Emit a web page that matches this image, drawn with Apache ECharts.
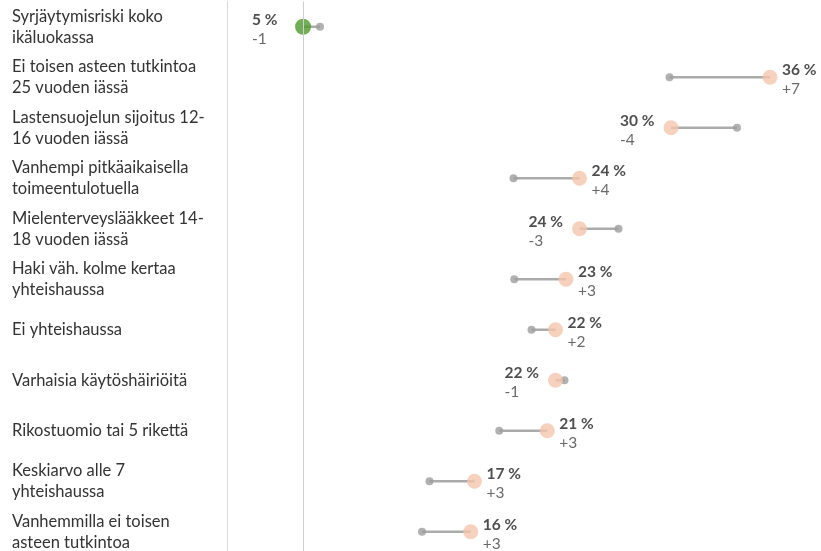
<!DOCTYPE html>
<html>
<head>
<meta charset="utf-8">
<script src="https://cdn.jsdelivr.net/npm/echarts@6/dist/echarts.min.js"></script>
<style>
  html, body { margin: 0; padding: 0; background: #fff; }
  #chart { width: 821px; height: 551px; }
</style>
</head>
<body>
<div id="chart"></div>
<script>
// rivit ylhäältä alas
var categories = [
  'Syrjäytymisriski koko\nikäluokassa',
  'Ei toisen asteen tutkintoa\n25 vuoden iässä',
  'Lastensuojelun sijoitus 12-\n16 vuoden iässä',
  'Vanhempi pitkäaikaisella\ntoimeentulotuella',
  'Mielenterveyslääkkeet 14-\n18 vuoden iässä',
  'Haki väh. kolme kertaa\nyhteishaussa',
  'Ei yhteishaussa',
  'Varhaisia käytöshäiriöitä',
  'Rikostuomio tai 5 rikettä',
  'Keskiarvo alle 7\nyhteishaussa',
  'Vanhemmilla ei toisen\nasteen tutkintoa'
];
var current  = [5.07, 36.2, 29.6, 23.5, 23.5, 22.6, 21.9, 21.9, 21.35, 16.5, 16.25];
var previous = [6.2, 29.5, 34.0, 19.1, 26.1, 19.15, 20.3, 22.5, 18.15, 13.5, 13.0];
var shownPct    = [5, 36, 30, 24, 24, 23, 22, 22, 21, 17, 16];
var shownChange = ['-1', '+7', '-4', '+4', '-3', '+3', '+2', '-1', '+3', '+3', '+3'];

var FONT = 'Lato, "Open Sans", sans-serif';

var chart = echarts.init(document.getElementById('chart'));

var segData = categories.map(function (c, i) { return [i, previous[i], current[i]]; });
var prevData = categories.map(function (c, i) { return [previous[i], i]; });
var currData = categories.map(function (c, i) {
  var up = current[i] >= previous[i];
  var size = i === 0 ? 16 : 15;
  var r = size / 2;
  return {
    value: [current[i], i],
    symbolSize: size,
    itemStyle: { color: i === 0 ? '#4e9a2b' : '#f3c6ae' },
    label: {
      position: up ? [12 + r, r + 2.5] : [-51 + r, r + 2.5],
      formatter: '{a|' + shownPct[i] + ' %}\n{b|' + shownChange[i] + '}'
    }
  };
});

var option = {
  animation: false,
  grid: { left: 227, width: 570, top: 1.5, height: 555.5, outerBoundsMode: 'none', containLabel: false },
  xAxis: {
    type: 'value', min: 0, max: 38,
    show: false
  },
  yAxis: {
    type: 'category',
    inverse: true,
    data: categories,
    axisLine: { show: true, lineStyle: { color: '#d9d9d9', width: 1 } },
    axisTick: { show: false },
    splitLine: { show: false },
    axisLabel: {
      align: 'left',
      margin: 215,
      color: '#333',
      fontFamily: FONT,
      fontSize: 16.5,
      lineHeight: 21,
      padding: [3, 0, 0, 0]
    }
  },
  series: [
    {
      type: 'custom',
      data: segData,
      renderItem: function (params, api) {
        var p0 = api.coord([api.value(1), api.value(0)]);
        var p1 = api.coord([api.value(2), api.value(0)]);
        return {
          type: 'line',
          shape: { x1: p0[0], y1: p0[1], x2: p1[0], y2: p1[1] },
          style: { stroke: '#ababab', lineWidth: 2.5 }
        };
      },
      z: 1
    },
    {
      type: 'scatter',
      data: prevData,
      symbolSize: 8,
      itemStyle: { color: '#9e9e9e' },
      markLine: {
        silent: true,
        symbol: 'none',
        label: { show: false },
        lineStyle: { color: '#cfcfcf', width: 1, type: 'solid' },
        data: [{ xAxis: current[0] }]
      },
      z: 2
    },
    {
      type: 'scatter',
      data: currData,
      z: 3,
      label: {
        show: true,
        align: 'left',
        verticalAlign: 'middle',
        rich: {
          a: { fontFamily: FONT, fontSize: 15.5, fontWeight: 'bold', color: '#222', lineHeight: 19, align: 'left' },
          b: { fontFamily: FONT, fontSize: 15.5, color: '#444', lineHeight: 19, align: 'left' }
        }
      }
    }
  ]
};

chart.setOption(option);
</script>
</body>
</html>
